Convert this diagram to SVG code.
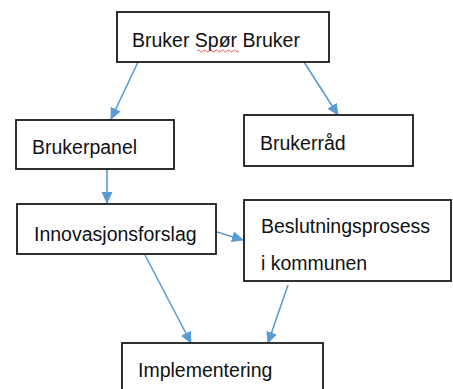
<svg xmlns="http://www.w3.org/2000/svg" width="453" height="389" viewBox="0 0 453 389">
<style>
.box{fill:#fff;stroke:#1a1a1a;stroke-width:1.8}
.lbl{font-family:"Liberation Sans",Arial,sans-serif;font-size:19.5px;fill:#111}
.con{stroke:#5b9bd5;stroke-width:1.6;fill:none;marker-end:url(#ah)}
</style>
<defs>
<marker id="ah" markerWidth="12" markerHeight="11" refX="11" refY="5.5" orient="auto" markerUnits="userSpaceOnUse">
<path d="M0,0 L12,5.5 L0,11 Z" fill="#5b9bd5"/>
</marker>
</defs>
<rect width="453" height="389" fill="#fff"/>
<g id="connectors">
<line class="con" x1="138" y1="62" x2="111" y2="119"/>
<line class="con" x1="304" y1="62" x2="338" y2="115"/>
<line class="con" x1="107" y1="169" x2="107" y2="203"/>
<line class="con" x1="217" y1="232" x2="243" y2="240"/>
<line class="con" x1="145" y1="255" x2="191" y2="343"/>
<line class="con" x1="288" y1="285" x2="268" y2="343"/>
</g>
<g id="n-bsb">
<rect class="box" x="117" y="12" width="212" height="50"/>
<text class="lbl" x="132" y="47">Bruker Spør Bruker</text>
<path d="M197,51 q1.5,-2 3,0 t3,0 t3,0 t3,0 t3,0 t3,0 t3,0 t3,0 t3,0 t3,0 t3,0 t3,0 t3,0 t3,0" fill="none" stroke="#e03030" stroke-width="0.8"/>
</g>
<g id="n-panel">
<rect class="box" x="16" y="120" width="158" height="49"/>
<text class="lbl" x="32" y="154">Brukerpanel</text>
</g>
<g id="n-rad">
<rect class="box" x="244" y="115" width="169" height="51"/>
<text class="lbl" x="260" y="150">Brukerråd</text>
</g>
<g id="n-innov">
<rect class="box" x="17" y="204" width="199" height="50"/>
<text class="lbl" x="34" y="241">Innovasjonsforslag</text>
</g>
<g id="n-besl">
<rect class="box" x="244" y="200" width="207" height="81"/>
<text class="lbl" x="261" y="233">Beslutningsprosess</text>
<text class="lbl" x="261" y="270">i kommunen</text>
</g>
<g id="n-impl">
<rect class="box" x="122" y="343" width="201" height="60"/>
<text class="lbl" x="138" y="377">Implementering</text>
</g>
</svg>
